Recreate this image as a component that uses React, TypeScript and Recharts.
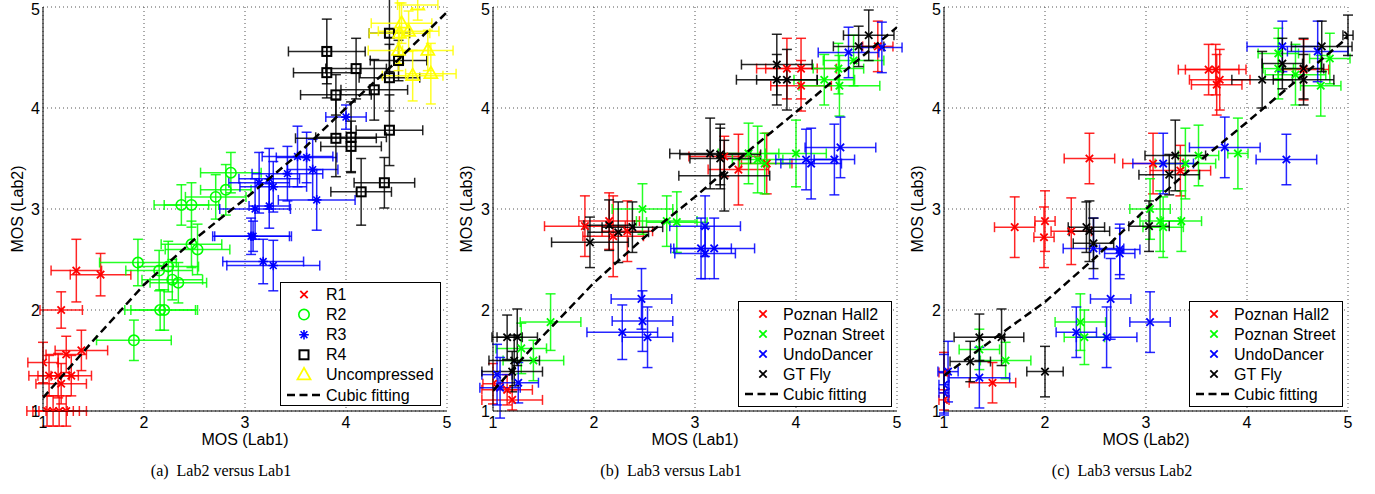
import { ScatterChart, Scatter, XAxis, YAxis, CartesianGrid, ErrorBar, Legend } from 'recharts'

// every point: [x, y, error x, error y]
type Pt = [number, number, number, number]

const axisTicks = [1, 2, 3, 4, 5]

// (a) Lab2 versus Lab1
const aR1: Pt[] = [
  [1.33, 2.39, 0.25, 0.31], [1.57, 2.35, 0.3, 0.21], [1.18, 2.0, 0.21, 0.18], [1.38, 1.6, 0.26, 0.2],
  [1.23, 1.56, 0.2, 0.18], [1.0, 1.48, 0.15, 0.2], [1.06, 1.35, 0.2, 0.2], [1.15, 1.35, 0.2, 0.22],
  [1.28, 1.35, 0.2, 0.2], [1.18, 1.27, 0.25, 0.2], [1.04, 1.0, 0.2, 0.15], [1.1, 1.0, 0.2, 0.15],
  [1.16, 1.0, 0.2, 0.15], [1.23, 1.0, 0.2, 0.15],
]
const aR2: Pt[] = [
  [2.37, 3.04, 0.27, 0.2], [2.47, 3.04, 0.27, 0.22], [2.71, 3.12, 0.3, 0.22], [2.86, 3.36, 0.3, 0.2],
  [2.81, 3.19, 0.25, 0.25], [1.94, 2.47, 0.38, 0.23], [2.15, 2.39, 0.33, 0.2], [2.24, 2.43, 0.3, 0.25],
  [2.28, 2.3, 0.3, 0.2], [2.34, 2.27, 0.28, 0.2], [2.47, 2.65, 0.3, 0.23], [2.53, 2.6, 0.32, 0.25],
  [2.16, 2.0, 0.35, 0.2], [2.2, 2.0, 0.33, 0.2], [1.9, 1.7, 0.37, 0.2],
]
const aR3: Pt[] = [
  [4.0, 3.91, 0.2, 0.12], [3.52, 3.52, 0.35, 0.3], [3.61, 3.51, 0.3, 0.25], [3.67, 3.39, 0.25, 0.3],
  [3.42, 3.35, 0.35, 0.27], [3.24, 3.3, 0.3, 0.3], [3.14, 3.26, 0.3, 0.3], [3.28, 3.22, 0.33, 0.25],
  [3.71, 3.09, 0.38, 0.3], [3.1, 3.0, 0.35, 0.3], [3.24, 3.03, 0.2, 0.22], [3.06, 2.73, 0.38, 0.18],
  [3.08, 2.73, 0.38, 0.15], [3.18, 2.48, 0.4, 0.22], [3.28, 2.44, 0.46, 0.25],
]
const aR4: Pt[] = [
  [3.81, 4.56, 0.38, 0.32], [4.43, 4.74, 0.2, 0.38], [3.81, 4.35, 0.33, 0.25], [4.1, 4.39, 0.3, 0.3],
  [3.9, 4.13, 0.35, 0.2], [4.28, 4.18, 0.33, 0.3], [4.52, 4.47, 0.28, 0.2], [4.43, 4.3, 0.3, 0.33],
  [3.9, 3.7, 0.4, 0.38], [4.05, 3.71, 0.35, 0.35], [4.05, 3.62, 0.3, 0.25], [4.43, 3.78, 0.33, 0.35],
  [4.38, 3.26, 0.3, 0.25], [4.15, 3.17, 0.3, 0.33],
]
const aRaw: Pt[] = [
  [4.71, 5.02, 0.2, 0.15], [4.55, 4.84, 0.3, 0.2], [4.62, 4.76, 0.3, 0.2], [4.53, 4.74, 0.3, 0.3],
  [4.52, 4.57, 0.3, 0.2], [4.81, 4.57, 0.25, 0.2], [4.66, 4.32, 0.3, 0.25], [4.84, 4.34, 0.25, 0.3],
]
const aFit = [[1, 1.13], [1.5, 1.7], [2, 2.25], [2.5, 2.7], [3, 3.1], [3.5, 3.52], [4, 4.0], [4.5, 4.46], [5, 4.95]]

// (b) Lab3 versus Lab1
const bHall: Pt[] = [
  [1.91, 2.83, 0.4, 0.3], [2.15, 2.88, 0.3, 0.28], [2.19, 2.73, 0.3, 0.4], [2.33, 2.78, 0.25, 0.3],
  [1.0, 1.27, 0.1, 0.2], [1.14, 1.21, 0.25, 0.15], [1.19, 1.11, 0.3, 0.1], [3.91, 4.39, 0.3, 0.3],
  [4.05, 4.39, 0.35, 0.3], [4.05, 4.22, 0.3, 0.25], [4.81, 4.61, 0.15, 0.25], [3.29, 3.52, 0.35, 0.2],
  [3.43, 3.39, 0.3, 0.35], [3.71, 3.45, 0.25, 0.3],
]
const bStreet: Pt[] = [
  [2.48, 3.0, 0.3, 0.25], [2.72, 2.88, 0.3, 0.25], [2.82, 2.87, 0.3, 0.3], [1.57, 1.88, 0.3, 0.28],
  [1.28, 1.62, 0.25, 0.25], [1.4, 1.5, 0.3, 0.2], [3.53, 3.55, 0.3, 0.3], [3.62, 3.49, 0.25, 0.33],
  [3.69, 3.45, 0.25, 0.3], [4.0, 3.55, 0.3, 0.33], [4.42, 4.39, 0.25, 0.25], [4.28, 4.28, 0.3, 0.25],
  [4.43, 4.22, 0.4, 0.3], [4.57, 4.47, 0.3, 0.25],
]
const bUndo: Pt[] = [
  [2.47, 2.11, 0.3, 0.3], [2.48, 1.89, 0.3, 0.3], [2.28, 1.78, 0.35, 0.27], [2.53, 1.73, 0.25, 0.3],
  [1.04, 1.36, 0.15, 0.3], [1.07, 1.23, 0.2, 0.3], [1.25, 1.28, 0.2, 0.2], [4.44, 3.61, 0.35, 0.3],
  [4.38, 3.49, 0.2, 0.35], [4.1, 3.49, 0.3, 0.3], [4.15, 3.45, 0.3, 0.35], [4.52, 4.55, 0.3, 0.25],
  [4.85, 4.6, 0.2, 0.25], [3.1, 2.83, 0.35, 0.3], [3.06, 2.61, 0.3, 0.3], [3.1, 2.56, 0.3, 0.25],
  [3.19, 2.61, 0.4, 0.3],
]
const bFly: Pt[] = [
  [1.96, 2.67, 0.38, 0.25], [2.15, 2.84, 0.25, 0.25], [2.24, 2.77, 0.3, 0.3], [2.38, 2.82, 0.3, 0.25],
  [1.14, 1.73, 0.15, 0.22], [1.24, 1.73, 0.2, 0.28], [1.21, 1.5, 0.25, 0.25], [1.19, 1.39, 0.3, 0.2],
  [3.15, 3.55, 0.4, 0.35], [3.25, 3.54, 0.4, 0.3], [3.25, 3.5, 0.3, 0.3], [3.29, 3.33, 0.45, 0.35],
  [3.81, 4.43, 0.35, 0.3], [3.81, 4.28, 0.4, 0.25], [3.91, 4.28, 0.3, 0.3], [4.72, 4.72, 0.25, 0.25],
  [4.62, 4.61, 0.25, 0.2],
]
const bFit = [[1, 1.2], [1.5, 1.75], [2, 2.27], [2.5, 2.72], [3, 3.12], [3.5, 3.55], [4, 3.96], [4.5, 4.38], [5, 4.8]]

// (c) Lab3 versus Lab2
const cHall: Pt[] = [
  [1.7, 2.82, 0.2, 0.3], [2.0, 2.88, 0.1, 0.3], [1.99, 2.72, 0.1, 0.3], [2.26, 2.78, 0.2, 0.33],
  [1.0, 1.38, 0.05, 0.2], [1.0, 1.11, 0.05, 0.1], [1.48, 1.28, 0.23, 0.2], [2.44, 3.5, 0.25, 0.25],
  [3.62, 4.38, 0.3, 0.25], [3.69, 4.38, 0.3, 0.25], [3.73, 4.28, 0.3, 0.3], [3.7, 4.23, 0.25, 0.3],
  [4.56, 4.38, 0.25, 0.3], [3.34, 3.38, 0.3, 0.25], [3.07, 3.45, 0.3, 0.3],
]
const cStreet: Pt[] = [
  [2.35, 1.88, 0.25, 0.28], [2.39, 1.73, 0.2, 0.27], [1.35, 1.61, 0.2, 0.2], [1.61, 1.5, 0.25, 0.18],
  [3.52, 3.53, 0.2, 0.3], [3.91, 3.55, 0.1, 0.35], [4.31, 4.54, 0.2, 0.25], [4.31, 4.39, 0.15, 0.3],
  [4.48, 4.33, 0.3, 0.3], [4.82, 4.49, 0.2, 0.25], [4.73, 4.22, 0.2, 0.3], [3.39, 3.45, 0.3, 0.35],
  [3.04, 3.0, 0.2, 0.3], [3.14, 2.88, 0.2, 0.3], [3.17, 2.82, 0.2, 0.3], [3.35, 2.88, 0.2, 0.3],
]
const cUndo: Pt[] = [
  [2.31, 1.78, 0.2, 0.25], [2.61, 1.73, 0.3, 0.3], [2.65, 2.11, 0.2, 0.4], [2.48, 2.61, 0.3, 0.3],
  [2.74, 2.6, 0.2, 0.25], [2.74, 2.56, 0.15, 0.25], [1.04, 1.39, 0.1, 0.3], [1.0, 1.26, 0.05, 0.3],
  [1.0, 1.18, 0.05, 0.2], [1.35, 1.33, 0.3, 0.3], [3.78, 3.61, 0.35, 0.3], [4.39, 3.49, 0.3, 0.25],
  [4.35, 4.61, 0.35, 0.25], [4.7, 4.56, 0.3, 0.3], [3.17, 3.45, 0.3, 0.3], [3.04, 1.88, 0.2, 0.3],
]
const cFly: Pt[] = [
  [1.26, 1.49, 0.2, 0.2], [1.35, 1.73, 0.25, 0.23], [1.57, 1.73, 0.22, 0.28], [2.0, 1.39, 0.18, 0.25],
  [2.41, 2.82, 0.18, 0.25], [2.44, 2.78, 0.2, 0.3], [2.48, 2.66, 0.2, 0.25], [5.0, 4.72, 0.05, 0.2],
  [4.74, 4.61, 0.3, 0.25], [4.35, 4.44, 0.2, 0.25], [4.56, 4.39, 0.2, 0.3], [4.56, 4.28, 0.3, 0.25],
  [4.15, 4.28, 0.3, 0.28], [3.29, 3.53, 0.3, 0.35], [3.23, 3.34, 0.3, 0.2], [3.03, 2.83, 0.2, 0.25],
]
const cFit = [[1, 1.35], [1.5, 1.72], [2, 2.08], [2.5, 2.52], [3, 3.0], [3.5, 3.45], [4, 3.86], [4.5, 4.28], [5, 4.7]]

const RED = '#ff0000'
const GREEN = '#00ff00'
const BLUE = '#0000ff'
const BLACK = '#000000'
const YELLOW = '#ffff00'

const toRows = (pts: Pt[]) => pts.map(([x, y, ex, ey]) => ({ x, y, ex, ey }))
const toLine = (pts: number[][]) => pts.map(([x, y]) => ({ x, y }))

function Marker({ cx, cy, kind, color }: any) {
  if (cx == null || cy == null) return <g />
  const s = { stroke: color, fill: 'none', strokeWidth: 1.6 }
  switch (kind) {
    case 'o':
      return <circle cx={cx} cy={cy} r={5.2} {...s} />
    case 's':
      return <rect x={cx - 4.5} y={cy - 4.5} width={9} height={9} {...s} strokeWidth={2} />
    case '^':
      return <polygon points={`${cx},${cy - 7} ${cx - 6.5},${cy + 4.5} ${cx + 6.5},${cy + 4.5}`} {...s} strokeWidth={1.8} />
    case '*':
      return (
        <path
          d={`M${cx - 3.4},${cy - 3.4}L${cx + 3.4},${cy + 3.4}M${cx - 3.4},${cy + 3.4}L${cx + 3.4},${cy - 3.4}M${cx},${cy - 4.8}V${cy + 4.8}M${cx - 4.8},${cy}H${cx + 4.8}`}
          {...s}
        />
      )
    default:
      return (
        <path
          d={`M${cx - 3.7},${cy - 3.7}L${cx + 3.7},${cy + 3.7}M${cx - 3.7},${cy + 3.7}L${cx + 3.7},${cy - 3.7}`}
          {...s}
          strokeWidth={1.8}
        />
      )
  }
}

function LegendBox({ items, w, h, row0, step, mx, tx }: any) {
  const lastY = row0 + step * items.length
  return (
    <svg width={w} height={h} style={{ display: 'block', overflow: 'visible' }}>
      <rect x={0.5} y={0.5} width={w - 1} height={h - 1} fill="#fff" stroke="#000" />
      {items.map((it: any, i: number) => (
        <g key={it.name}>
          <Marker cx={mx} cy={row0 + step * i} kind={it.kind} color={it.color} />
          <text x={tx} y={row0 + step * i} dominantBaseline="central" fontSize={16} fill="#000">
            {it.name}
          </text>
        </g>
      ))}
      <line x1={7} x2={41} y1={lastY} y2={lastY} stroke="#000" strokeWidth={2.5} strokeDasharray="8 4.5" />
      <text x={tx} y={lastY} dominantBaseline="central" fontSize={16} fill="#000">
        Cubic fitting
      </text>
    </svg>
  )
}

function Panel({ left, series, fit, lg }: any) {
  return (
    <div style={{ position: 'absolute', left, top: 0 }}>
      <ScatterChart width={460} height={451} margin={{ top: 7, right: 13, left: 0, bottom: 0 }}>
        <CartesianGrid stroke="#555" strokeDasharray="1 3" />
        <XAxis
          type="number"
          dataKey="x"
          domain={[1, 5]}
          ticks={axisTicks}
          allowDataOverflow
          height={40}
          tickSize={0}
          tickMargin={6}
          tickLine={false}
          axisLine={{ stroke: '#000' }}
          tick={{ fill: '#000', fontSize: 16 }}
        />
        <YAxis
          type="number"
          dataKey="y"
          domain={[1, 5]}
          ticks={axisTicks}
          allowDataOverflow
          width={43}
          tickSize={0}
          tickMargin={3}
          tickLine={false}
          axisLine={{ stroke: '#000' }}
          tick={{ fill: '#000', fontSize: 16 }}
        />
        {series.map((s: any) => (
          <Scatter
            key={s.name}
            name={s.name}
            data={toRows(s.pts)}
            fill={s.color}
            isAnimationActive={false}
            shape={(p: any) => <Marker cx={p.cx} cy={p.cy} kind={s.kind} color={s.color} />}
          >
            <ErrorBar dataKey="ex" direction="x" width={5} stroke={s.color} strokeWidth={1.5} strokeOpacity={0.85} isAnimationActive={false} />
            <ErrorBar dataKey="ey" direction="y" width={5} stroke={s.color} strokeWidth={1.5} strokeOpacity={0.85} isAnimationActive={false} />
          </Scatter>
        ))}
        <Scatter
          name="Cubic fitting"
          data={toLine(fit)}
          stroke="#000"
          line={{ stroke: '#000', strokeWidth: 2.5, strokeDasharray: '8 4.5' }}
          shape={() => <g />}
          legendType="none"
          isAnimationActive={false}
        />
        <Legend
          layout="vertical"
          align="center"
          verticalAlign="middle"
          wrapperStyle={{ left: lg.left, top: lg.top, width: lg.w, height: lg.h }}
          content={() => (
            <LegendBox items={series} w={lg.w} h={lg.h} row0={lg.row0} step={lg.step} mx={lg.mx} tx={lg.tx} />
          )}
        />
      </ScatterChart>
    </div>
  )
}

const seriesA = [
  { name: 'R1', color: RED, kind: 'x', pts: aR1 },
  { name: 'R2', color: GREEN, kind: 'o', pts: aR2 },
  { name: 'R3', color: BLUE, kind: '*', pts: aR3 },
  { name: 'R4', color: BLACK, kind: 's', pts: aR4 },
  { name: 'Uncompressed', color: YELLOW, kind: '^', pts: aRaw },
]
const seriesB = [
  { name: 'Poznan Hall2', color: RED, kind: 'x', pts: bHall },
  { name: 'Poznan Street', color: GREEN, kind: 'x', pts: bStreet },
  { name: 'UndoDancer', color: BLUE, kind: 'x', pts: bUndo },
  { name: 'GT Fly', color: BLACK, kind: 'x', pts: bFly },
]
const seriesC = [
  { name: 'Poznan Hall2', color: RED, kind: 'x', pts: cHall },
  { name: 'Poznan Street', color: GREEN, kind: 'x', pts: cStreet },
  { name: 'UndoDancer', color: BLUE, kind: 'x', pts: cUndo },
  { name: 'GT Fly', color: BLACK, kind: 'x', pts: cFly },
]

const titleStyle: any = {
  position: 'absolute',
  fontSize: 16,
  lineHeight: '16px',
  whiteSpace: 'nowrap',
  color: '#000',
}
const captionStyle: any = {
  position: 'absolute',
  top: 462,
  fontFamily: '"Liberation Serif", "Times New Roman", serif',
  fontSize: 16,
  lineHeight: '18px',
  whiteSpace: 'nowrap',
  transform: 'translateX(-50%)',
}

function AxisX({ x, text }: any) {
  return <div style={{ ...titleStyle, left: x, top: 432, transform: 'translateX(-50%)' }}>{text}</div>
}
function AxisY({ x, text }: any) {
  return (
    <div style={{ ...titleStyle, left: x, top: 209, transform: 'translate(-50%, -50%) rotate(-90deg)' }}>{text}</div>
  )
}

export default function App() {
  return (
    <div
      style={{
        position: 'absolute',
        left: 0,
        top: 0,
        width: 1375,
        height: 494,
        background: '#fff',
        fontFamily: '"Liberation Sans", Arial, sans-serif',
        overflow: 'hidden',
      }}
    >
      <Panel
        left={0}
        series={seriesA}
        fit={aFit}
        lg={{ left: 280, top: 282, w: 161, h: 124, row0: 12.5, step: 20.1, mx: 24, tx: 46 }}
      />
      <Panel
        left={450}
        series={seriesB}
        fit={bFit}
        lg={{ left: 288, top: 301, w: 154, h: 106, row0: 13, step: 20, mx: 25, tx: 45 }}
      />
      <Panel
        left={901}
        series={seriesC}
        fit={cFit}
        lg={{ left: 288, top: 301, w: 154, h: 106, row0: 13, step: 20, mx: 25, tx: 45 }}
      />
      <AxisX x={245} text="MOS (Lab1)" />
      <AxisY x={18} text="MOS (Lab2)" />
      <AxisX x={695} text="MOS (Lab1)" />
      <AxisY x={467} text="MOS (Lab3)" />
      <AxisX x={1146} text="MOS (Lab2)" />
      <AxisY x={918} text="MOS (Lab3)" />
      <div style={{ ...captionStyle, left: 221 }}>(a)&nbsp;&nbsp;Lab2 versus Lab1</div>
      <div style={{ ...captionStyle, left: 671 }}>(b)&nbsp;&nbsp;Lab3 versus Lab1</div>
      <div style={{ ...captionStyle, left: 1122 }}>(c)&nbsp;&nbsp;Lab3 versus Lab2</div>
    </div>
  )
}
